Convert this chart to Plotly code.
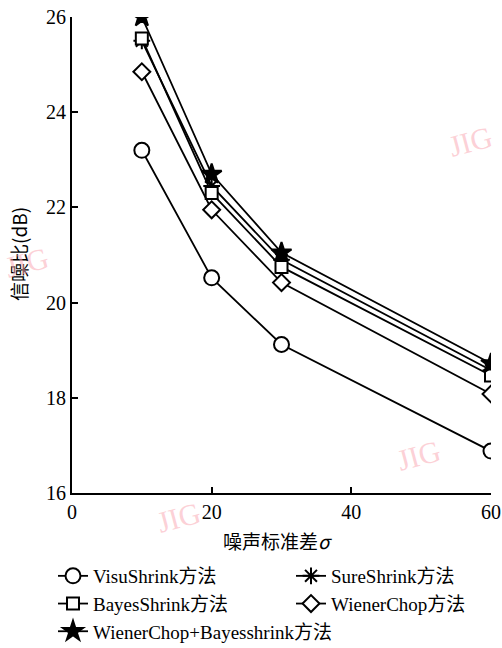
import plotly.graph_objects as go

sigma = [10, 20, 30, 60]
visu = [23.2, 20.52, 19.12, 16.88]
sure = [25.5, 22.45, 20.9, 18.58]
bayes = [25.55, 22.3, 20.75, 18.47]
wiener = [24.85, 21.95, 20.42, 18.08]
wc_bayes = [26.0, 22.7, 21.05, 18.72]

names = ["VisuShrink方法", "SureShrink方法", "BayesShrink方法", "WienerChop方法",
         "WienerChop+Bayesshrink方法"]
series = [visu, sure, bayes, wiener, wc_bayes]
symbols = ["circle", "asterisk-open", "square", "diamond", "star"]
fills = ["white", "black", "white", "white", "black"]
sizes = [15, 14, 12, 13, 15]
legends = ["legend", "legend2", "legend", "legend2", "legend"]
groups = ["a", "b", "a", "b", "c"]

fig = go.Figure()
for n, s, sym, fc, sz, lg, gr in zip(names, series, symbols, fills, sizes, legends, groups):
    fig.add_trace(go.Scatter(
        x=sigma, y=s, name=n, mode="lines+markers", legend=lg, legendgroup=gr,
        line=dict(color="black", width=1.8),
        marker=dict(symbol=sym, size=sz, color=fc,
                    line=dict(color="black", width=2)),
    ))

serif = "Liberation Serif, Times New Roman, serif"
W, L, R, T, B = 502, 72, 11, 17, 155
pw = W - L - R
ph = 648 - T - B

def px(xp):
    return (xp - L) / pw

def py(yp):
    return (648 - B - yp) / ph

leg_font = dict(family=serif + ", Noto Sans CJK SC", size=19, color="black")
fig.update_layout(
    width=W, height=648,
    margin=dict(l=L, r=R, t=T, b=B, autoexpand=False),
    paper_bgcolor="white", plot_bgcolor="white",
    font=dict(family=serif, color="black", size=16),
    showlegend=True,
    legend=dict(orientation="v", x=px(53), xanchor="left", y=py(557), yanchor="top",
                font=leg_font, tracegroupgap=0, itemwidth=30, traceorder="normal",
                bgcolor="rgba(0,0,0,0)"),
    legend2=dict(orientation="v", x=px(291), xanchor="left", y=py(557), yanchor="top",
                 font=leg_font, tracegroupgap=0, itemwidth=30, traceorder="normal",
                 bgcolor="rgba(0,0,0,0)"),
    xaxis=dict(range=[0, 60], tickvals=[0, 20, 40, 60], ticks="inside", ticklen=6,
               tickwidth=2, tickcolor="black", showline=True, linecolor="black",
               linewidth=2, showgrid=False, zeroline=False,
               tickfont=dict(family=serif, size=20)),
    yaxis=dict(range=[16, 26], tickvals=[16, 18, 20, 22, 24, 26], ticks="inside",
               ticklen=6, tickwidth=2, tickcolor="black", showline=True,
               linecolor="black", linewidth=2, showgrid=False, zeroline=False,
               tickfont=dict(family=serif, size=20)),
)

fig.add_annotation(text="信噪比(dB)", xref="paper", yref="paper", x=px(18), y=py(254),
                   xanchor="center", yanchor="middle",
                   textangle=-90, showarrow=False,
                   font=dict(family="Noto Sans CJK SC", size=19, color="black"))
fig.add_annotation(text="噪声标准差<i>σ</i>", xref="paper", yref="paper", x=px(277), y=py(540),
                   xanchor="center", yanchor="middle", showarrow=False,
                   font=dict(family="Noto Sans CJK SC", size=19, color="black"))

# watermarks
wm = dict(family=serif, size=30, color="rgba(250,170,180,0.55)")
for (wx, wy) in [(470, 142), (418, 455), (178, 517), (26, 262)]:
    fig.add_annotation(text="JIG", xref="paper", yref="paper",
                       x=px(wx), y=py(wy), xanchor="center", yanchor="middle",
                       showarrow=False, textangle=-15, font=wm)

fig.write_html("out.html")
